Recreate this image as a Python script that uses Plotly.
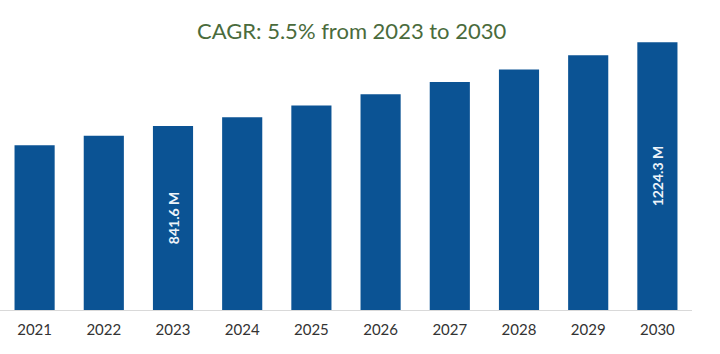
import plotly.graph_objects as go

years = ["2021", "2022", "2023", "2024", "2025", "2026", "2027", "2028", "2029", "2030"]
market_size = [753, 797, 841.6, 881, 935, 986, 1042, 1100, 1165, 1224.3]
bar_labels = ["", "", "841.6 M", "", "", "", "", "", "", "1224.3 M"]
title_text = "CAGR: 5.5% from 2023 to 2030"

fig = go.Figure()
fig.add_trace(go.Bar(
    x=years,
    y=market_size,
    text=bar_labels,
    textposition="inside",
    insidetextanchor="middle",
    textangle=-90,
    textfont=dict(family="Lato", size=14, color="#eef4fa", weight="bold"),
    marker=dict(color="#0b5394", line=dict(width=0)),
    hoverinfo="skip",
))

fig.add_annotation(
    text=title_text,
    xref="paper", yref="paper",
    x=352 / 692, y=1.0,
    xanchor="center", yanchor="middle",
    showarrow=False,
    font=dict(family="Lato", size=22, color="#4a6b3c"),
)

fig.update_layout(
    width=720, height=354,
    margin=dict(l=0, r=28, t=30, b=44),
    paper_bgcolor="white",
    plot_bgcolor="white",
    bargap=0.42,
    showlegend=False,
    xaxis=dict(
        showline=True, linecolor="#d9d9d9", linewidth=1,
        ticks="", showgrid=False,
        ticklabelstandoff=6,
        tickfont=dict(family="Lato", size=15, color="#333333"),
    ),
    yaxis=dict(
        range=[0, 1280], visible=False, showgrid=False,
    ),
)

fig.write_html("out.html")
